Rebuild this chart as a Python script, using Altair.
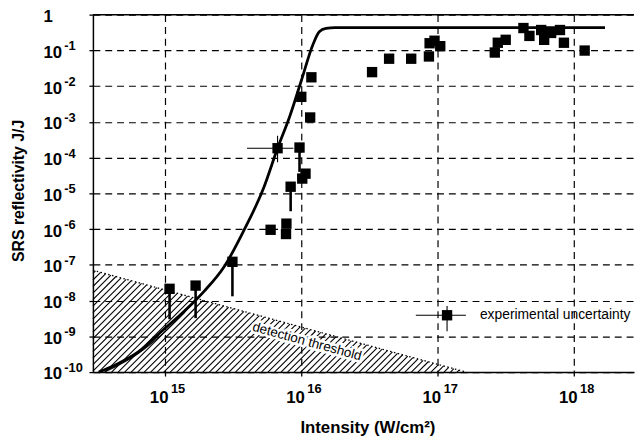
import altair as alt
import pandas as pd
import numpy as np

FONT = "Liberation Sans"

# ---- axis ranges (log10) ----
XMIN_LOG, XMAX_LOG = 14.475, 18.443
YMIN_LOG, YMAX_LOG = -10.0, 0.0

# ---- measured points (log10 of intensity, log10 of reflectivity) ----
pts_x_log = [15.037, 15.228, 15.498, 15.778, 15.894, 15.891, 15.925, 15.829,
             15.990, 16.010, 16.034, 16.003, 16.068, 16.077,
             16.522, 16.647, 16.809, 16.939, 16.944, 16.980, 17.022,
             17.422, 17.444, 17.502, 17.632, 17.676, 17.762, 17.784,
             17.835, 17.900, 17.929, 18.081]
pts_y_log = [-7.67, -7.58, -6.915, -6.019, -5.847, -6.137, -4.814, -3.737,
             -3.718, -4.586, -4.449, -2.30, -2.877, -1.753,
             -1.608, -1.233, -1.233, -1.170, -0.80, -0.73, -0.882,
             -1.06, -0.786, -0.704, -0.375, -0.595, -0.43, -0.704,
             -0.512, -0.43, -0.786, -1.005]

# downward error bars (upper limits) on some points
eb_x_log = [15.037, 15.228, 15.498, 15.925, 15.990]
eb_top_log = [-7.67, -7.58, -6.915, -4.814, -3.718]
eb_bot_log = [-8.52, -8.49, -7.88, -5.50, -4.40]

# point with full error cross
cross_x_log, cross_y_log = 15.829, -3.737
cross_x_lo, cross_x_hi = 15.605, 15.945
cross_y_lo, cross_y_hi = -4.13, -3.39

# theory curve
curve_x_log = [14.518, 14.64, 14.81, 15.0, 15.146, 15.29, 15.436, 15.58, 15.726,
               15.829, 15.918, 16.003, 16.088, 16.135, 16.184, 16.25, 17.0, 18.23]
curve_y_log = [-10.0, -9.8, -9.43, -8.79, -8.29, -7.74, -7.06, -6.05, -4.86,
               -3.74, -2.85, -1.85, -0.84, -0.48, -0.385, -0.362, -0.36, -0.36]
curve2_x_log = [14.56, 14.80, 15.0, 15.15]
curve2_y_log = [-10.0, -9.5, -8.88, -8.32]

# detection threshold (triangle top edge)
thr_x_log = [14.475, 17.212]
thr_y_log = [-7.15, -10.0]

# legend
leg_x_log, leg_y_log = 17.072, -8.41
leg_xbar = [16.843, 17.21]
leg_ybar = [-8.86, -8.148]
leg_text = "experimental uncertainty"

x_ticks = [15, 16, 17, 18]
y_ticks = list(range(-10, 1))

W, H = 548, 362
XS = alt.Scale(type="log", domain=[10 ** XMIN_LOG, 10 ** XMAX_LOG], nice=False)
YS = alt.Scale(type="log", domain=[10 ** YMIN_LOG, 10 ** YMAX_LOG], nice=False)

XA = alt.Axis(values=[10.0 ** k for k in x_ticks], title="Intensity (W/cm²)", labels=False,
              grid=True, gridColor="black", gridDash=[7, 5], gridWidth=1.2, gridOpacity=1,
              tickSize=4, tickColor="black", tickWidth=1.3, domainColor="black", domainWidth=1.5,
              titleFont=FONT, titleFontSize=17, titleFontWeight="bold", titleColor="black",
              titleX=278, titleY=56, titleAlign="center", titleBaseline="middle")
YA = alt.Axis(values=[10.0 ** k for k in y_ticks], title="SRS reflectivity J/J", labels=False,
              grid=True, gridColor="black", gridDash=[7, 5], gridWidth=1.2, gridOpacity=1,
              tickSize=4, tickColor="black", tickWidth=1.3, domainColor="black", domainWidth=1.5,
              titleFont=FONT, titleFontSize=16, titleFontWeight="bold", titleColor="black",
              titleX=-75, titleY=178, titleAngle=270, titleAlign="center", titleBaseline="middle")


def X(f="x"):
    return alt.X(f + ":Q", scale=XS, axis=XA)


def Y(f="y"):
    return alt.Y(f + ":Q", scale=YS, axis=YA)


def p(v):
    return [10.0 ** a for a in v]


# ---- hatch pattern (decoration) ----
s = (W / (XMAX_LOG - XMIN_LOG)) / (H / (YMAX_LOG - YMIN_LOG))  # 45 degrees in pixel space
xl, xr = thr_x_log
yt, yb = thr_y_log
t = (yb - yt) / (xr - xl)
hatch = []
step = 6.6 / (W / (XMAX_LOG - XMIN_LOG))
x0 = xl - (yt - yb) / s + step / 2
while x0 < xr:
    if x0 >= xl:
        sx, sy = x0, yb
    else:
        sx, sy = xl, yb + s * (xl - x0)
    ex = (yt - t * xl - yb + s * x0) / (s - t)
    ey = yb + s * (ex - x0)
    if ex > sx:
        hatch.append({"x": 10 ** sx, "y": 10 ** sy, "x2": 10 ** ex, "y2": 10 ** ey})
    x0 += step
hatch_df = pd.DataFrame(hatch)

hatch_layer = alt.Chart(hatch_df).mark_rule(color="black", strokeWidth=1.1).encode(
    x=X(), y=Y(), x2="x2:Q", y2="y2:Q")

thr_df = pd.DataFrame({"x": [10 ** thr_x_log[0]], "y": [10 ** thr_y_log[0]],
                       "x2": [10 ** thr_x_log[1]], "y2": [10 ** thr_y_log[1]]})
thr_layer = alt.Chart(thr_df).mark_rule(color="black", strokeWidth=1.3, strokeDash=[1.5, 2.5]).encode(
    x=X(), y=Y(), x2="x2:Q", y2="y2:Q")

lab_df = pd.DataFrame({"x": [10 ** 16.045], "y": [10 ** -9.15], "t": ["detection threshold"]})
thr_halo = alt.Chart(lab_df).mark_text(font=FONT, fontSize=13.5, angle=15.4, color="white",
                                       stroke="white", strokeWidth=5, align="center",
                                       baseline="middle").encode(x=X(), y=Y(), text="t:N")
thr_text = alt.Chart(lab_df).mark_text(font=FONT, fontSize=13.5, angle=15.4, color="black",
                                       align="center", baseline="middle").encode(x=X(), y=Y(), text="t:N")

top_df = pd.DataFrame({"y": [10 ** YMAX_LOG]})
top_layer = alt.Chart(top_df).mark_rule(color="black", strokeWidth=1.5).encode(y=Y())

curve_df = pd.DataFrame({"x": p(curve_x_log), "y": p(curve_y_log)})
curve_layer = alt.Chart(curve_df).mark_line(color="black", strokeWidth=2.8, interpolate="monotone").encode(
    x=X(), y=Y())
curve2_df = pd.DataFrame({"x": p(curve2_x_log), "y": p(curve2_y_log)})
curve2_layer = alt.Chart(curve2_df).mark_line(color="black", strokeWidth=1.1, interpolate="monotone").encode(
    x=X(), y=Y())

eb_df = pd.DataFrame({"x": p(eb_x_log), "y": p(eb_top_log), "y2": p(eb_bot_log)})
eb_layer = alt.Chart(eb_df).mark_rule(color="black", strokeWidth=2.6).encode(x=X(), y=Y(), y2="y2:Q")

cross_h = pd.DataFrame({"x": [10 ** cross_x_lo, 10 ** leg_xbar[0]], "x2": [10 ** cross_x_hi, 10 ** leg_xbar[1]],
                        "y": [10 ** cross_y_log, 10 ** leg_y_log]})
cross_v = pd.DataFrame({"x": [10 ** cross_x_log, 10 ** leg_x_log], "y": [10 ** cross_y_lo, 10 ** leg_ybar[0]],
                        "y2": [10 ** cross_y_hi, 10 ** leg_ybar[1]]})
ch_layer = alt.Chart(cross_h).mark_rule(color="black", strokeWidth=1.1).encode(x=X(), x2="x2:Q", y=Y())
cv_layer = alt.Chart(cross_v).mark_rule(color="black", strokeWidth=1.1).encode(x=X(), y=Y(), y2="y2:Q")

pts_df = pd.DataFrame({"x": p(pts_x_log) + [10 ** leg_x_log], "y": p(pts_y_log) + [10 ** leg_y_log]})
pts_layer = alt.Chart(pts_df).mark_square(size=110, color="black", opacity=1, filled=True).encode(
    x=X(), y=Y())

leg_df = pd.DataFrame({"x": [10 ** 17.313], "y": [10 ** leg_y_log], "t": [leg_text]})
leg_layer = alt.Chart(leg_df).mark_text(font=FONT, fontSize=14, align="left", baseline="middle",
                                        color="black").encode(x=X(), y=Y(), text="t:N")

# ---- tick labels as 10 + superscript ----
ylab_df = pd.DataFrame({"x": [10 ** XMIN_LOG] * len(y_ticks), "y": [10.0 ** k for k in y_ticks],
                        "b": ["10" if k < 0 else "" for k in y_ticks],
                        "e": [str(k) if k < 0 else "" for k in y_ticks]})
one_df = pd.DataFrame({"x": [10 ** XMIN_LOG], "y": [10 ** YMAX_LOG], "b": ["1"]})
ylab_b = alt.Chart(ylab_df).mark_text(font=FONT, fontSize=17, fontWeight="bold", align="left",
                                      baseline="middle", dx=-50, dy=2.5, color="black").encode(
    x=X(), y=Y(), text="b:N")
one_lab = alt.Chart(one_df).mark_text(font=FONT, fontSize=17, fontWeight="bold", align="left",
                                      baseline="alphabetic", dx=-50, dy=7, color="black").encode(
    x=X(), y=Y(), text="b:N")
ylab_e = alt.Chart(ylab_df).mark_text(font=FONT, fontSize=13, fontWeight="bold", align="left",
                                      baseline="middle", dx=-29, dy=-4, color="black").encode(
    x=X(), y=Y(), text="e:N")

xlab_df = pd.DataFrame({"x": [10.0 ** k for k in x_ticks], "y": [10 ** YMIN_LOG] * len(x_ticks),
                        "b": ["10"] * len(x_ticks), "e": [str(k) for k in x_ticks]})
xlab_b = alt.Chart(xlab_df).mark_text(font=FONT, fontSize=17, fontWeight="bold", align="right",
                                      baseline="middle", dx=4, dy=26, color="black").encode(
    x=X(), y=Y(), text="b:N")
xlab_e = alt.Chart(xlab_df).mark_text(font=FONT, fontSize=13, fontWeight="bold", align="left",
                                      baseline="middle", dx=6.5, dy=17, color="black").encode(
    x=X(), y=Y(), text="e:N")

chart = alt.layer(
    hatch_layer, thr_layer, thr_halo, thr_text, top_layer, curve2_layer, curve_layer,
    eb_layer, ch_layer, cv_layer, pts_layer, leg_layer, ylab_b, one_lab, ylab_e, xlab_b, xlab_e
).properties(
    width=W, height=H,
    autosize=alt.AutoSizeParams(type="none"),
    padding={"left": 86, "top": 4, "right": 2, "bottom": 62},
    background="white",
).configure_view(stroke=None)

chart.save("out.html", embed_options={"renderer": "svg", "actions": False})
